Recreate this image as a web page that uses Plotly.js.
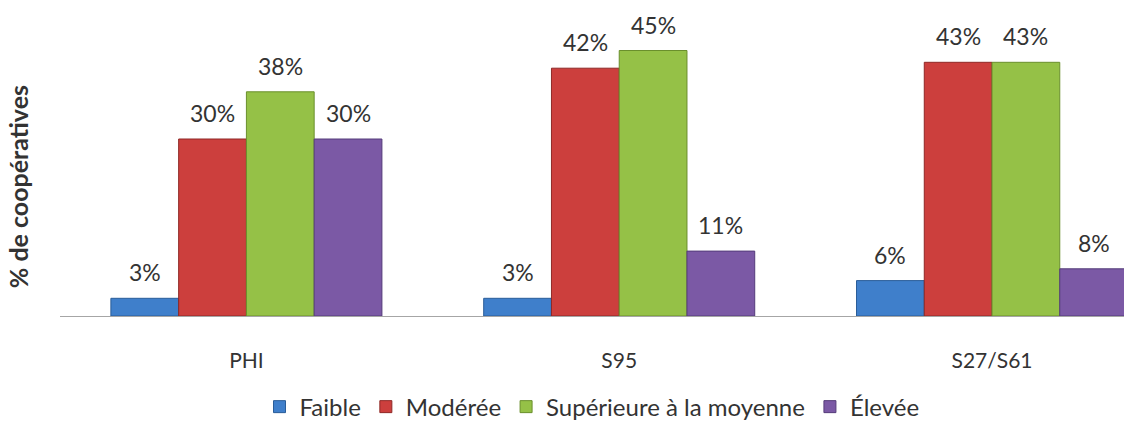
<!DOCTYPE html>
<html>
<head>
<meta charset="utf-8">
<script src="https://cdn.plot.ly/plotly-3.0.1.min.js"></script>
<style>html,body{margin:0;padding:0;background:#fff;}#chart{width:1124px;height:424px;}</style>
</head>
<body>
<div id="chart"></div>
<script>
const categories = ["PHI", "S95", "S27/S61"];
const seriesNames = ["Faible", "Modérée", "Supérieure à la moyenne", "Élevée"];
const faible = [3, 3, 6];
const moderee = [30, 42, 43];
const superieure = [38, 45, 43];
const elevee = [30, 11, 8];
const yTitle = "% de coopératives";

const values = [faible, moderee, superieure, elevee];
const fills = ["#3f7fcb", "#cc3f3d", "#95c147", "#7b59a5"];
const lines = ["#2a5d99", "#8f2826", "#6a8f2c", "#553c7a"];

const traces = values.map((v, i) => ({
  type: "bar",
  name: seriesNames[i],
  x: categories,
  y: v,
  marker: {color: fills[i], line: {color: lines[i], width: 1}},
  hoverinfo: "skip"
}));

// value labels above bars, positioned via the axis scales
const barPx = 67.8;
const annotations = [];
values.forEach((v, i) => {
  v.forEach((val, j) => {
    annotations.push({
      x: categories[j], y: val, xref: "x", yref: "y",
      text: val + "%", showarrow: false,
      xanchor: "center", yanchor: "bottom",
      xshift: (i - 1.5) * barPx, yshift: 10,
      font: {family: "Lato, sans-serif", size: 23, color: "#333333"}
    });
  });
});
annotations.push({
  text: "<b>" + yTitle + "</b>", textangle: -90, showarrow: false,
  xref: "paper", yref: "paper", x: -0.0395, y: 0.44,
  xanchor: "center", yanchor: "middle",
  font: {family: "Lato, sans-serif", size: 25, color: "#333333"}
});

const layout = {
  width: 1124, height: 424,
  margin: {l: 60, r: 0, t: 21, b: 108},
  paper_bgcolor: "#ffffff", plot_bgcolor: "#ffffff",
  barmode: "group", bargap: 0.273, bargroupgap: 0,
  font: {family: "Lato, sans-serif", color: "#333333"},
  xaxis: {
    range: [-0.5, 2.354], automargin: false,
    showline: true, linecolor: "#a6a6a6", linewidth: 1,
    ticks: "", showgrid: false, zeroline: false,
    tickfont: {size: 21, color: "#333333"},
    ticklabelstandoff: 26
  },
  yaxis: {
    range: [0, 50], automargin: false, showticklabels: false, showgrid: false, zeroline: false,
    showline: false, ticks: ""
  },
  annotations: annotations,
  showlegend: true,
  legend: {
    orientation: "h", x: 0.5, xanchor: "center", xref: "paper",
    y: 0.04, yanchor: "middle", yref: "container",
    font: {size: 24, color: "#333333"}, itemwidth: 30, tracegroupgap: 0
  }
};

Plotly.newPlot("chart", traces, layout, {displayModeBar: false, staticPlot: true});
</script>
</body>
</html>
